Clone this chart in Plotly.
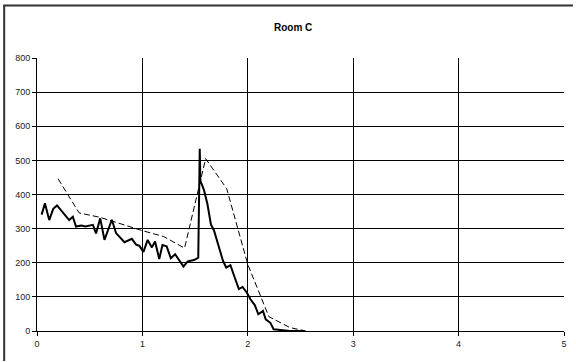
import plotly.graph_objects as go

# Solid series (measured)
solid_x = [0.044, 0.075, 0.116, 0.154, 0.19, 0.25, 0.305, 0.34, 0.37, 0.42, 0.46, 0.53, 0.56, 0.60,
           0.64, 0.71, 0.75, 0.83, 0.90, 0.94, 0.97, 1.01, 1.05, 1.09, 1.12, 1.16, 1.19, 1.23, 1.27,
           1.31, 1.35, 1.39, 1.43, 1.49, 1.53, 1.544, 1.55, 1.585, 1.617, 1.65, 1.68, 1.71, 1.764,
           1.795, 1.835, 1.87, 1.915, 1.95, 1.99, 2.025, 2.066, 2.10, 2.144, 2.17, 2.214, 2.245,
           2.355, 2.40, 2.54]
solid_y = [341, 374, 325, 358, 368, 345, 325, 335, 306, 309, 306, 311, 286, 330,
           267, 326, 287, 260, 270, 253, 250, 232, 267, 245, 262, 211, 252, 248, 213,
           225, 206, 189, 204, 208, 215, 534, 441, 412, 372, 312, 294, 265, 206,
           186, 193, 162, 123, 129, 113, 93, 76, 49, 59, 34, 24, 5,
           3, 0, 0]

# Dashed series (measured)
dash_x = [0.2, 0.4, 0.6, 0.8, 1.0, 1.2, 1.4, 1.6, 1.8, 2.0, 2.2, 2.4, 2.55]
dash_y = [446, 346, 333, 313, 294, 277, 243, 505, 417, 195, 42, 10, 0]

x_ticks = [0, 1, 2, 3, 4, 5]
y_ticks = [0, 100, 200, 300, 400, 500, 600, 700, 800]

fig = go.Figure()
fig.add_trace(go.Scatter(x=dash_x, y=dash_y, mode="lines",
                         line=dict(color="#000000", width=1, dash="6px,3px"),
                         showlegend=False))
fig.add_trace(go.Scatter(x=solid_x, y=solid_y, mode="lines",
                         line=dict(color="#000000", width=2),
                         showlegend=False))

L, R, T, B = 37, 9, 58, 31
W, H = 576, 362
pw = W - L - R
ph = H - T - B

def px(xp):
    return (xp - L) / pw

def py(yp):
    return (H - B - yp) / ph

fig.update_layout(
    width=W, height=H,
    margin=dict(l=L, r=R, t=T, b=B),
    paper_bgcolor="white", plot_bgcolor="white",
    font=dict(family="Liberation Sans, Arial, sans-serif", color="#000000"),
    showlegend=False,
    annotations=[dict(text="<b>Room C</b>", x=px(294), y=py(28), xref="paper", yref="paper",
                      showarrow=False, font=dict(size=10, color="#000000"),
                      xanchor="center", yanchor="middle")],
    shapes=[
        dict(type="line", xref="paper", yref="paper",
             x0=px(4), x1=px(4), y0=py(361), y1=py(5),
             line=dict(color="#333333", width=2)),
        dict(type="line", xref="paper", yref="paper",
             x0=px(3), x1=px(576), y0=py(5.5), y1=py(5.5),
             line=dict(color="#333333", width=2)),
    ],
)
fig.update_xaxes(range=[0, 5], tickvals=x_ticks, ticktext=[str(v) for v in x_ticks],
                 showgrid=True, gridcolor="#000000", gridwidth=1,
                 showline=True, linecolor="#000000", linewidth=1,
                 ticks="outside", ticklen=4, tickcolor="#000000",
                 tickfont=dict(size=9, color="#222222"), zeroline=False, mirror=False)
fig.update_yaxes(range=[0, 800], tickvals=y_ticks, ticktext=[str(v) for v in y_ticks],
                 showgrid=True, gridcolor="#000000", gridwidth=1,
                 showline=True, linecolor="#000000", linewidth=1,
                 ticks="outside", ticklen=4, tickcolor="#000000",
                 tickfont=dict(size=9, color="#222222"), zeroline=False)

fig.write_html("out.html", config={"displayModeBar": False},
               post_script="document.body.style.margin='0';document.body.style.overflow='hidden';")
